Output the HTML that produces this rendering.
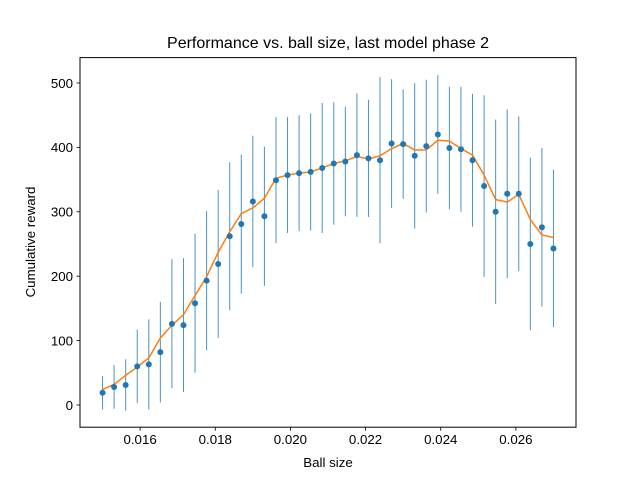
<!DOCTYPE html>
<html><head><meta charset="utf-8"><style>
body{margin:0;background:#fff;}
svg{display:block;font-family:"Liberation Sans","DejaVu Sans",sans-serif;}
</style></head><body>
<svg id="chart" width="640" height="480" viewBox="0 0 640 480" xmlns="http://www.w3.org/2000/svg">
<rect width="640" height="480" fill="#fff"/>
<text x="328" y="48" text-anchor="middle" font-size="16" fill="#000">Performance vs. ball size, last model phase 2</text>
<text x="328" y="467" text-anchor="middle" font-size="13.3" fill="#000">Ball size</text>
<text transform="translate(35,242) rotate(-90)" text-anchor="middle" font-size="13.3" fill="#000">Cumulative reward</text>
<g id="plot"></g>
<rect x="80" y="57.6" width="496" height="369.6" fill="none" stroke="#000" stroke-width="1"/>
</svg>
<script>
const means = [19,28,31,60,63,82,126,124,158,193,219,262,281,316,293,349,357,360,362,368,375,378,388,383,380,406,405,387,402,420,399,397,380,340,300,328,328,250,276,243];
const errors = [26,34,40,57,70,78,100,104,108,108,115,115,108,102,108,98,90,90,91,101,95,85,96,91,129,100,85,113,103,92,95,97,103,141,143,131,120,134,123,122];
const smooth = [24,32,46,59,73,104,124,140,170,199,237,269,297,306,321,352,357,360,362,368,375,379,386,382,387,398,406,396,396,411,410,398,388,357,319,315,327,288,264,260];
const xStart = 0.015, xEnd = 0.027;
const xTicks = [0.016,0.018,0.020,0.022,0.024,0.026];
const xTickLabels = ["0.016","0.018","0.020","0.022","0.024","0.026"];
const yTicks = [0,100,200,300,400,500];
const yTickLabels = ["0","100","200","300","400","500"];

const X0=80,X1=576,Y0=427.2,Y1=57.6;
const xmin=0.0144,xmax=0.0276,ymin=-34.5,ymax=539.4;
function sx(v){return X0+(v-xmin)/(xmax-xmin)*(X1-X0);}
function sy(v){return Y0-(v-ymin)/(ymax-ymin)*(Y0-Y1);}
const NS="http://www.w3.org/2000/svg";
const svg=document.getElementById('chart');
const plot=document.getElementById('plot');
function mk(tag,attrs,parent){const e=document.createElementNS(NS,tag);for(const k in attrs)e.setAttribute(k,attrs[k]);(parent||plot).appendChild(e);return e;}
const n=means.length;
const xs=means.map((_,i)=>xStart+(xEnd-xStart)*i/(n-1));
// error bars
for(let i=0;i<n;i++){
  const l=mk('line',{x1:sx(xs[i]),x2:sx(xs[i]),y1:sy(means[i]-errors[i]),y2:sy(means[i]+errors[i]),stroke:'#1f77b4','stroke-width':1,'stroke-opacity':0.8});
  
  
}
// smooth line
const pts=smooth.map((v,i)=>sx(xs[i]).toFixed(2)+','+sy(v).toFixed(2)).join(' ');
const pl=mk('polyline',{points:pts,fill:'none',stroke:'#ff7f0e','stroke-width':1.5});


// points
for(let i=0;i<n;i++){
  const c=mk('circle',{cx:sx(xs[i]),cy:sy(means[i]),r:3,fill:'#1f77b4'});
  
  
}
// ticks
xTicks.forEach((t,i)=>{
  const x=sx(t);
  const tk=mk('line',{x1:x,x2:x,y1:Y0,y2:Y0+3.5,stroke:'#000','stroke-width':0.8},svg);
  
  
  const tx=mk('text',{x:x,y:Y0+17,'text-anchor':'middle','font-size':'13.3',fill:'#000'},svg);
  tx.textContent=xTickLabels[i];
  
  
});
yTicks.forEach((t,i)=>{
  const y=sy(t);
  const tk=mk('line',{x1:X0-3.5,x2:X0,y1:y,y2:y,stroke:'#000','stroke-width':0.8},svg);
  
  
  const tx=mk('text',{x:X0-7,y:y+4.8,'text-anchor':'end','font-size':'13.3',fill:'#000'},svg);
  tx.textContent=yTickLabels[i];
  
  
});
</script>
</body></html>
